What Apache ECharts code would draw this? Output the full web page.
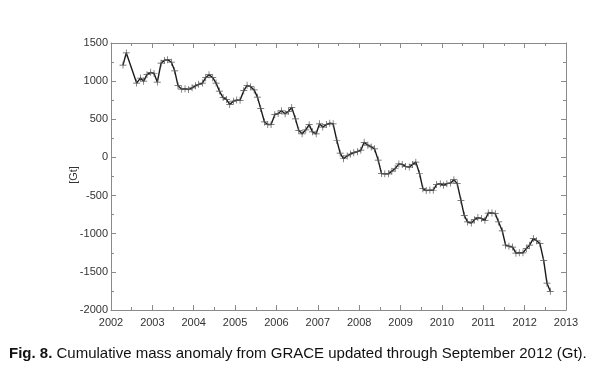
<!DOCTYPE html>
<html>
<head>
<meta charset="utf-8">
<script src="https://cdn.jsdelivr.net/npm/echarts@6/dist/echarts.min.js"></script>
<style>
html,body{margin:0;padding:0;background:#fff;}
#c{width:613px;height:371px;}
</style>
</head>
<body>
<div id="c"></div>
<script>
// Time (decimal year) of each monthly GRACE solution
const times = [
  2002.29, 2002.37, 2002.62, 2002.71, 2002.79, 2002.87, 2002.96,
  2003.04, 2003.12, 2003.21, 2003.29, 2003.37, 2003.46, 2003.54, 2003.62, 2003.71, 2003.79, 2003.87, 2003.96,
  2004.04, 2004.12, 2004.21, 2004.29, 2004.37, 2004.46, 2004.54, 2004.62, 2004.71, 2004.79, 2004.87, 2004.96,
  2005.04, 2005.12, 2005.21, 2005.29, 2005.37, 2005.46, 2005.54, 2005.62, 2005.71, 2005.79, 2005.87, 2005.96,
  2006.04, 2006.12, 2006.21, 2006.29, 2006.37, 2006.46, 2006.54, 2006.62, 2006.71, 2006.79, 2006.87, 2006.96,
  2007.04, 2007.12, 2007.21, 2007.29, 2007.37, 2007.46, 2007.54, 2007.62, 2007.71, 2007.79, 2007.87, 2007.96,
  2008.04, 2008.12, 2008.21, 2008.29, 2008.37, 2008.46, 2008.54, 2008.62, 2008.71, 2008.79, 2008.87, 2008.96,
  2009.04, 2009.12, 2009.21, 2009.29, 2009.37, 2009.46, 2009.54, 2009.62, 2009.71, 2009.79, 2009.87, 2009.96,
  2010.04, 2010.12, 2010.21, 2010.29, 2010.37, 2010.46, 2010.54, 2010.62, 2010.71, 2010.79, 2010.87, 2010.96,
  2011.04, 2011.12, 2011.21, 2011.29, 2011.37, 2011.46, 2011.54, 2011.62, 2011.71, 2011.79, 2011.87, 2011.96,
  2012.04, 2012.12, 2012.21, 2012.29, 2012.37, 2012.46, 2012.54, 2012.62, 2012.71
];
// Cumulative mass anomaly (Gt)
const massGt = [
  1210, 1370, 975, 1040, 1000, 1085, 1115,
  1100, 988, 1235, 1272, 1282, 1248, 1135, 940, 895, 900, 890, 912,
  938, 958, 975, 1045, 1085, 1045, 975, 870, 785, 760, 695, 738,
  752, 748, 875, 945, 928, 885, 790, 640, 465, 432, 432, 560,
  575, 612, 572, 605, 655, 505, 352, 310, 362, 430, 335, 310,
  440, 398, 432, 448, 441, 222, 56, -17, 20, 45, 62,
  75, 95, 198, 160, 138, 113, -35, -212, -215, -215, -180, -145,
  -85, -92, -118, -127, -92, -62, -214, -410, -435, -428, -430, -356,
  -344, -366, -344, -336, -292, -344, -563, -759, -846, -859, -816, -789,
  -802, -824, -729, -729, -737, -846, -964, -1150, -1163, -1175, -1255, -1250,
  -1250, -1195, -1150, -1064, -1092, -1130, -1350, -1648, -1755
];
const yearTicks = [2002, 2013];
const massTicks = [-2000, 1500];
const yTitle = '[Gt]';

const series = times.map((t, i) => [t, massGt[i]]);
const axisCol = '#8a8a8a';
const txtCol = '#333';
const font = 'Liberation Sans, Arial, sans-serif';
const plus = 'path://M0,4.5H10V5.5H0Z M4.5,0H5.5V10H4.5Z';

function xAx(pos, show) {
  return {
    type: 'value', position: pos, min: yearTicks[0], max: yearTicks[1], interval: 1,
    axisLine: {show: true, onZero: false, lineStyle: {color: axisCol, width: 1}},
    axisTick: {show: true, inside: true, length: 5, lineStyle: {color: axisCol}},
    minorTick: {show: true, splitNumber: 2, length: 3, lineStyle: {color: axisCol}},
    splitLine: {show: false},
    axisLabel: {show: show, color: txtCol, fontSize: 11, fontFamily: font, margin: 7,
      formatter: v => String(v)}
  };
}
function yAx(pos, show) {
  return {
    type: 'value', position: pos, min: massTicks[0], max: massTicks[1], interval: 500,
    axisLine: {show: true, onZero: false, lineStyle: {color: axisCol, width: 1}},
    axisTick: {show: true, inside: true, length: 5, lineStyle: {color: axisCol}},
    minorTick: {show: true, splitNumber: 2, length: 3, lineStyle: {color: axisCol}},
    splitLine: {show: false},
    axisLabel: {show: show, color: txtCol, fontSize: 11, fontFamily: font, margin: 3,
      formatter: v => String(v)}
  };
}

const chart = echarts.init(document.getElementById('c'), null, {renderer: 'canvas'});
chart.setOption({
  animation: false,
  backgroundColor: '#fff',
  title: {
    text: '{b|Fig. 8.} Cumulative mass anomaly from GRACE updated through September 2012 (Gt).',
    left: 4, top: 341,
    textStyle: {
      color: '#111', fontSize: 15, fontWeight: 'normal', fontFamily: font,
      rich: {b: {fontWeight: 'bold', fontSize: 15, color: '#111', fontFamily: font}}
    }
  },
  graphic: [{
    type: 'text', x: 74, y: 175, rotation: Math.PI / 2,
    style: {text: yTitle, fill: txtCol, font: '11px ' + font, align: 'center', verticalAlign: 'middle'}
  }],
  grid: {left: 111, right: 47, top: 43, bottom: 61, containLabel: false},
  xAxis: [xAx('bottom', true), xAx('top', false)],
  yAxis: [yAx('left', true), yAx('right', false)],
  series: [{
    type: 'line', data: series, xAxisIndex: 0, yAxisIndex: 0,
    showSymbol: true, symbol: plus, symbolSize: 7,
    itemStyle: {color: '#555'},
    lineStyle: {color: '#1a1a1a', width: 1.4},
    smooth: false
  }]
});
</script>
</body>
</html>
